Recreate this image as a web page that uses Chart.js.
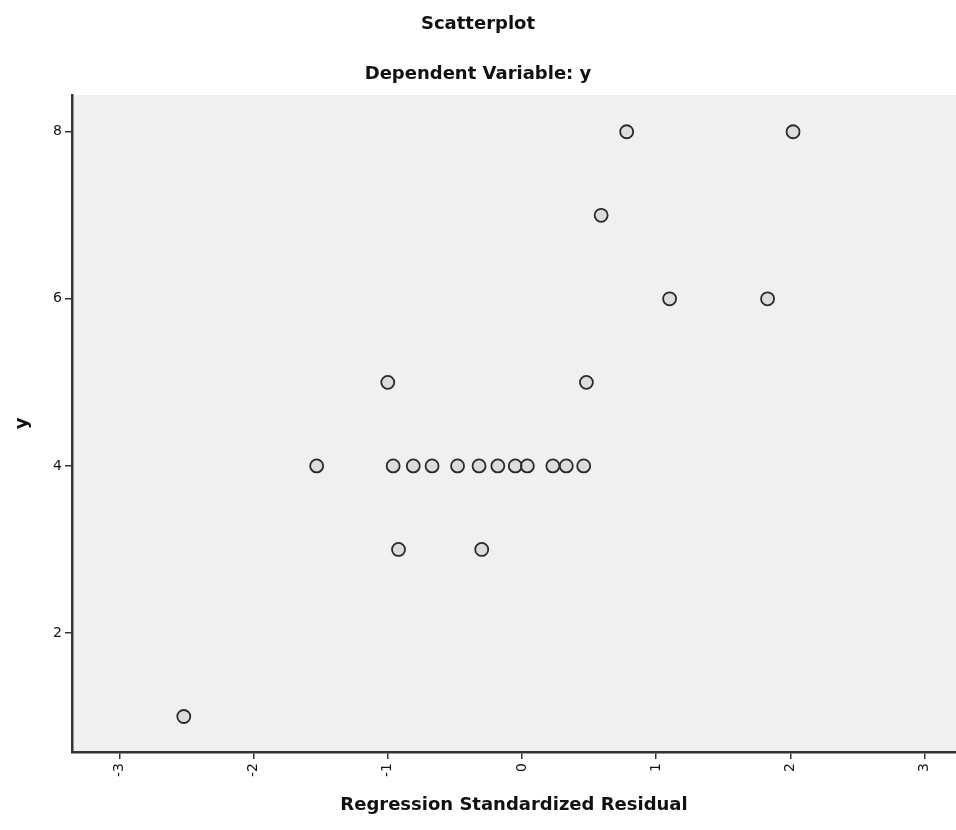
<!DOCTYPE html>
<html>
<head>
<meta charset="utf-8">
<script src="https://cdn.jsdelivr.net/npm/chart.js@4"></script>
<style>
    html, body { margin: 0; padding: 0; background: #ffffff; }
    #wrap { width: 956px; height: 830px; }
</style>
</head>
<body>
<div id="wrap"><canvas id="scatterChart" width="956" height="830"></canvas></div>
<script>
// values
const residuals = [0.78, 2.02, 0.59, 1.10, 1.83, -1.00, 0.48, -1.53, -0.96, -0.81, -0.67,
                   -0.48, -0.32, -0.18, -0.05, 0.04, 0.23, 0.33, 0.46, -0.92, -0.30, -2.52];
const yValues   = [8, 8, 7, 6, 6, 5, 5, 4, 4, 4, 4,
                   4, 4, 4, 4, 4, 4, 4, 4, 3, 3, 1];
const xTickValues = [-3, -2, -1, 0, 1, 2, 3];
const yTickValues = [2, 4, 6, 8];

const points = residuals.map((r, i) => ({ x: r, y: yValues[i] }));

const FONT = '"DejaVu Sans", Verdana, sans-serif';

// light grey plot area like the SPSS chart
const plotBackground = {
    id: 'plotBackground',
    beforeDraw(chart) {
        const { ctx, chartArea } = chart;
        ctx.save();
        ctx.fillStyle = '#f0f0f0';
        ctx.fillRect(chartArea.left, chartArea.top, chartArea.right - chartArea.left, chartArea.bottom - chartArea.top);
        ctx.restore();
    }
};

const ctx = document.getElementById('scatterChart').getContext('2d');
new Chart(ctx, {
    type: 'scatter',
    data: {
        datasets: [{
            data: points,
            pointRadius: 6.5,
            pointHoverRadius: 6.5,
            pointBackgroundColor: 'rgba(190,190,190,0.4)',
            pointBorderColor: '#2a2a2a',
            pointBorderWidth: 1.8
        }]
    },
    options: {
        responsive: false,
        animation: false,
        layout: { autoPadding: false, padding: 0 },
        plugins: {
            legend: { display: false },
            tooltip: { enabled: false },
            title: {
                display: true,
                text: 'Scatterplot',
                color: '#111',
                font: { family: FONT, size: 18, weight: 'bold' },
                padding: { top: 14, bottom: 16 }
            },
            subtitle: {
                display: true,
                text: 'Dependent Variable: y',
                color: '#111',
                font: { family: FONT, size: 18, weight: 'bold' },
                padding: { top: 12.4, bottom: 9.4 }
            }
        },
        scales: {
            x: {
                type: 'linear',
                min: -3.353,
                max: 3.234,
                afterBuildTicks(scale) {
                    scale.ticks = xTickValues.map(v => ({ value: v }));
                },
                afterFit(scale) {
                    scale.height = 78;
                    scale.paddingLeft = 0;
                    scale.paddingRight = 0;
                },
                border: { display: true, color: '#333', width: 2.5 },
                grid: { drawOnChartArea: false, drawTicks: true, tickLength: 7, color: '#333', lineWidth: 1.5 },
                ticks: {
                    color: '#111',
                    minRotation: 90,
                    maxRotation: 90,
                    padding: 4,
                    font: { family: FONT, size: 14 }
                },
                title: {
                    display: true,
                    text: 'Regression Standardized Residual',
                    color: '#111',
                    font: { family: FONT, size: 18, weight: 'bold' },
                    padding: { top: 8, bottom: 14 }
                }
            },
            y: {
                type: 'linear',
                min: 0.575,
                max: 8.44,
                afterBuildTicks(scale) {
                    scale.ticks = yTickValues.map(v => ({ value: v }));
                },
                afterFit(scale) { scale.width = 72; },
                border: { display: true, color: '#333', width: 2.5 },
                grid: { drawOnChartArea: false, drawTicks: true, tickLength: 7, color: '#333', lineWidth: 1.5 },
                ticks: {
                    color: '#111',
                    padding: 3,
                    font: { family: FONT, size: 14 }
                },
                title: {
                    display: true,
                    text: 'y',
                    color: '#111',
                    font: { family: FONT, size: 18, weight: 'bold' },
                    padding: { top: 12, bottom: 6 }
                }
            }
        }
    },
    plugins: [plotBackground]
});
</script>
</body>
</html>
